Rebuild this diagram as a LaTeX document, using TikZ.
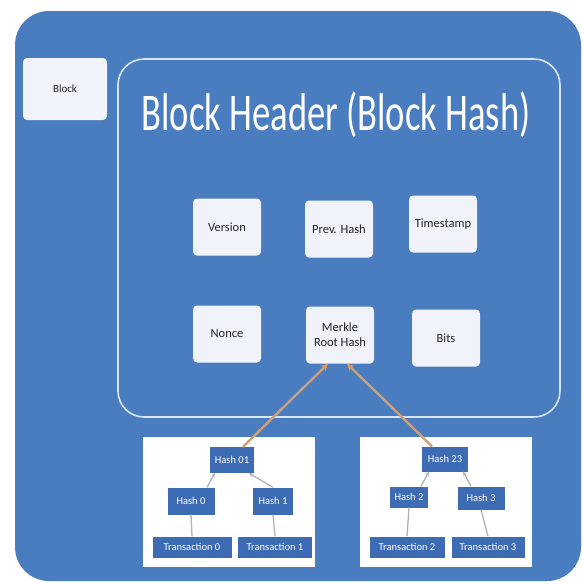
\documentclass[tikz,border=0pt]{standalone}
\usepackage{fontspec}
\setmainfont{Carlito}
\usetikzlibrary{arrows.meta,calc}
\definecolor{outerblue}{RGB}{74,125,191}
\definecolor{fieldfill}{RGB}{240,244,250}
\definecolor{treeblue}{RGB}{62,108,180}
\definecolor{innerline}{RGB}{215,230,248}
\definecolor{treeline}{RGB}{175,178,185}
\definecolor{orangeline}{RGB}{205,160,122}
\definecolor{orangetip}{RGB}{225,150,90}
\definecolor{fieldtext}{RGB}{35,35,35}
\tikzset{
  field/.style={fill=fieldfill, rounded corners=4pt, inner sep=0pt,
    minimum width=68pt, minimum height=57pt, align=center, text=fieldtext,
    font=\fontsize{12.5}{15}\selectfont},
  treebox/.style={fill=white, inner sep=0pt},
  tnode/.style={fill=treeblue, text=white, inner sep=0pt,
    font=\fontsize{10.5}{12}\selectfont},
  tline/.style={draw=treeline, line width=1.3pt},
  tarrow/.style={draw=treeline, line width=1.3pt, -{Stealth[length=4pt,width=4pt]}},
  oarrow/.style={draw=orangeline, line width=2.4pt,
    -{Stealth[length=7pt,width=7pt,color=orangetip,fill=orangetip]}}
}
\begin{document}
\begin{tikzpicture}[x=1pt,y=-1pt]
\useasboundingbox (0,0) rectangle (583,584);
\fill[white] (0,0) rectangle (583,584);
% outer block
\fill[outerblue, rounded corners=34pt] (15,11) rectangle (581,581);
% block label
\node[field, minimum width=84pt, minimum height=62pt, font=\fontsize{11}{13}\selectfont] (block) at (65,89) {Block};
% header frame
\draw[innerline, line width=1.6pt, rounded corners=26pt] (118,59) rectangle (560,417);
\node[anchor=base, text=white, inner sep=0pt] (title) at (336,130)
  {\fontsize{53}{60}\selectfont\scalebox{0.69}[1]{Block Header (Block Hash)}};
% fields
\node[field] (version) at (227,227) {Version};
\node[field] (prev) at (339,229) {Prev. Hash};
\node[field] (time) at (443,224) {Timestamp};
\node[field] (nonce) at (227,334) {Nonce};
\node[field] (merkle) at (340,335) {Merkle\\Root Hash};
\node[field] (bits) at (446,338) {Bits};
% merkle tree boxes
\node[treebox, minimum width=172pt, minimum height=130pt] (leftbox) at (229,502) {};
\node[treebox, minimum width=172pt, minimum height=130pt] (rightbox) at (446,502) {};
% left tree
\node[tnode, minimum width=44pt, minimum height=26pt] (h01) at (232,460) {Hash 01};
\node[tnode, minimum width=47pt, minimum height=27pt] (h0) at (191,501) {Hash 0};
\node[tnode, minimum width=40pt, minimum height=27pt] (h1) at (273,501) {Hash 1};
\node[tnode, minimum width=79pt, minimum height=21pt] (t0) at (192,547) {Transaction 0};
\node[tnode, minimum width=74pt, minimum height=21pt] (t1) at (275,547) {Transaction 1};
% right tree
\node[tnode, minimum width=46pt, minimum height=25pt] (h23) at (445,459) {Hash 23};
\node[tnode, minimum width=38pt, minimum height=21pt] (h2) at (409,497) {Hash 2};
\node[tnode, minimum width=47pt, minimum height=23pt] (h3) at (481,498) {Hash 3};
\node[tnode, minimum width=75pt, minimum height=21pt] (t2) at (407,547) {Transaction 2};
\node[tnode, minimum width=73pt, minimum height=21pt] (t3) at (488,547) {Transaction 3};
% tree connectors
\draw[tarrow] ([xshift=16pt]h0.north) -- ([xshift=5pt]h01.south west);
\draw[tarrow] (h1.north) -- ([xshift=-5pt]h01.south east);
\draw[tline] (h0.south) -- (t0.north);
\draw[tline] (h1.south) -- (t1.north);
\draw[tarrow] ([xshift=12pt]h2.north) -- ([xshift=7pt]h23.south west);
\draw[tarrow] ([xshift=-10pt]h3.north) -- ([xshift=-5pt]h23.south east);
\draw[tline] (h2.south) -- (t2.north);
\draw[tline] (h3.south) -- (t3.north);
% to merkle root
\draw[oarrow] ([xshift=11pt]h01.north) -- ([xshift=-12pt]merkle.south);
\draw[oarrow] ([xshift=-13pt]h23.north) -- ([xshift=7pt]merkle.south);
\end{tikzpicture}
\end{document}
